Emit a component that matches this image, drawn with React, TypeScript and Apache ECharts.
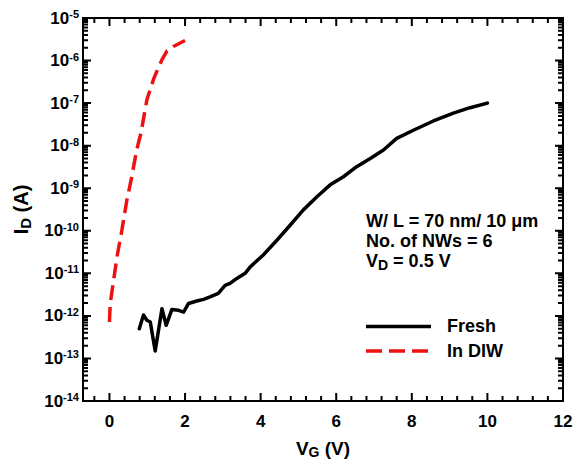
import React, { useEffect, useRef } from "react";
import * as echarts from "echarts";

// ---- data ----
const freshVg = [0.79, 0.90, 0.99, 1.08, 1.21, 1.39, 1.50, 1.65, 1.83, 1.96, 2.09, 2.31, 2.49, 2.66, 2.88, 3.06, 3.19, 3.37, 3.59, 3.72, 4.07, 4.43, 4.78, 5.13, 5.49, 5.84, 6.19, 6.54, 6.90, 7.25, 7.60, 8.04, 8.57, 9.10, 9.54, 10.0];
const freshId = [5.0e-13, 1.05e-12, 7.9e-13, 7.2e-13, 1.5e-13, 1.48e-12, 6.0e-13, 1.41e-12, 1.35e-12, 1.23e-12, 1.95e-12, 2.24e-12, 2.45e-12, 2.8e-12, 3.4e-12, 5.2e-12, 5.8e-12, 7.6e-12, 1.0e-11, 1.4e-11, 2.7e-11, 6.0e-11, 1.35e-10, 3.1e-10, 6.3e-10, 1.2e-9, 1.86e-9, 3.2e-9, 5.0e-9, 7.9e-9, 1.48e-8, 2.3e-8, 3.8e-8, 5.8e-8, 7.8e-8, 1.0e-7];

const diwVg = [0.0, 0.02, 0.11, 0.20, 0.33, 0.46, 0.59, 0.72, 0.84, 0.99, 1.16, 1.25, 1.39, 1.52, 1.69, 2.0];
const diwId = [7.2e-13, 1.95e-12, 6.9e-12, 2.45e-11, 1.05e-10, 5.2e-10, 1.86e-9, 7.9e-9, 2.1e-8, 1.2e-7, 3.5e-7, 5.5e-7, 1.05e-6, 1.66e-6, 2.14e-6, 2.95e-6];

const xTickLabels = [0, 2, 4, 6, 8, 10, 12];
const xMinorTicks = [-0.4, 0.4, 0.8, 1.2, 1.6, 2.4, 2.8, 3.2, 3.6, 4.4, 4.8, 5.2, 5.6, 6.4, 6.8, 7.2, 7.6, 8.4, 8.8, 9.2, 9.6, 10.4, 10.8, 11.2, 11.6];
const yDecadeExponents = [-14, -13, -12, -11, -10, -9, -8, -7, -6, -5];
const yMinorMultipliers = [2, 3, 4, 5, 6, 7, 8, 9];

const seriesNames = ["Fresh", "In DIW"];
const annotationLines = ["W/ L = 70 nm/ 10 \u03bcm", "No. of NWs = 6"];

const FONT = "'Liberation Sans', Arial, Helvetica, sans-serif";
const RED = "#ee1111";
const W = 573;
const H = 464;

export default function App() {
  const ref = useRef<HTMLDivElement>(null);

  useEffect(() => {
    if (!ref.current) return;
    const chart = echarts.init(ref.current, undefined, { renderer: "svg" });

    const xMin = -0.7;
    const xMax = 12;
    const eMin = yDecadeExponents[0];
    const eMax = yDecadeExponents[yDecadeExponents.length - 1];
    const yMin = Math.pow(10, eMin);
    const yMax = Math.pow(10, eMax);

    const textStyle = { fontSize: 18, fontFamily: FONT, fontWeight: "bold", fill: "#000" };

    chart.setOption({
      animation: false,
      backgroundColor: "#fff",
      grid: {
        left: 83, top: 18, right: 10, bottom: 63, containLabel: false, outerBoundsMode: "none",
        show: true, borderColor: "#000", borderWidth: 2, backgroundColor: "transparent",
      },
      xAxis: {
        type: "value",
        min: xMin,
        max: xMax,
        splitLine: { show: false },
        axisLine: { show: true, onZero: false, lineStyle: { color: "#000", width: 2 } },
        axisTick: { show: false },
        axisLabel: {
          show: true, customValues: xTickLabels, fontSize: 17, margin: 12,
          color: "#000", fontFamily: FONT, fontWeight: "bold",
        },
        name: "{m|V}{sub|G}{m| (V)}",
        nameLocation: "middle",
        nameGap: 36,
        nameTextStyle: {
          rich: {
            m: { fontSize: 19, fontFamily: FONT, fontWeight: "bold", color: "#000" },
            sub: { fontSize: 14, fontFamily: FONT, fontWeight: "bold", color: "#000", padding: [8, 0, 0, 0] },
          },
        },
      },
      yAxis: {
        type: "log",
        logBase: 10,
        min: yMin,
        max: yMax,
        interval: 1,
        splitLine: { show: false },
        axisLine: { show: true, onZero: false, lineStyle: { color: "#000", width: 2 } },
        axisTick: { show: false },
        axisLabel: {
          show: true,
          margin: 4,
          formatter: (v: number) => `{b|10}{s|${Math.round(Math.log10(v))}}`,
          rich: {
            b: { fontSize: 17, fontFamily: FONT, fontWeight: "bold", color: "#000" },
            s: { fontSize: 11, fontFamily: FONT, fontWeight: "bold", color: "#000", verticalAlign: "top", padding: [0, 0, 8, 0] },
          },
        },
        name: "{m|I}{sub|D}{m| (A)}",
        nameLocation: "middle",
        nameRotate: 90,
        nameGap: 46,
        nameTextStyle: {
          rich: {
            m: { fontSize: 20, fontFamily: FONT, fontWeight: "bold", color: "#000" },
            sub: { fontSize: 15, fontFamily: FONT, fontWeight: "bold", color: "#000", padding: [9, 0, 0, 0] },
          },
        },
      },
      series: [
        {
          name: seriesNames[0],
          type: "line",
          showSymbol: false,
          symbol: "none",
          data: freshVg.map((v, i) => [v, freshId[i]]),
          lineStyle: { color: "#000", width: 3.5, join: "round", cap: "round" },
          itemStyle: { color: "#000" },
        },
        {
          name: seriesNames[1],
          type: "line",
          showSymbol: false,
          symbol: "none",
          data: diwVg.map((v, i) => [v, diwId[i]]),
          lineStyle: { color: RED, width: 3.5, type: [15, 7] },
          itemStyle: { color: RED },
        },
      ],
    });

    // ---- tick marks as "comb" polylines along each frame edge, placed through the chart's scales ----
    const toPx = (x: number, y: number): number[] =>
      chart.convertToPixel({ xAxisIndex: 0, yAxisIndex: 0 }, [x, y]) as any;

    const bl = toPx(xMin, yMin);
    const tr = toPx(xMax, yMax);
    const yb = bl[1];
    const yt = tr[1];
    const xl = bl[0];
    const xr = tr[0];

    const xTicks: [number, number][] = [];
    xTickLabels.forEach((v) => xTicks.push([toPx(v, yMin)[0], 8]));
    xMinorTicks.forEach((v) => xTicks.push([toPx(v, yMin)[0], 5]));
    xTicks.sort((a, b) => a[0] - b[0]);

    const yTicks: [number, number][] = [];
    yDecadeExponents.forEach((e, i) => {
      const dec = Math.pow(10, e);
      yTicks.push([toPx(xMin, dec)[1], 8]);
      if (i < yDecadeExponents.length - 1) {
        yMinorMultipliers.forEach((m) => yTicks.push([toPx(xMin, m * dec)[1], 5]));
      }
    });
    yTicks.sort((a, b) => a[0] - b[0]);

    const combX = (y0: number, dir: number) => {
      const pts: number[][] = [[xl, y0]];
      xTicks.forEach(([x, len]) => {
        pts.push([x, y0], [x, y0 + dir * len], [x, y0]);
      });
      pts.push([xr, y0]);
      return pts;
    };
    const combY = (x0: number, dir: number) => {
      const pts: number[][] = [[x0, yt]];
      yTicks.forEach(([y, len]) => {
        pts.push([x0, y], [x0 + dir * len, y], [x0, y]);
      });
      pts.push([x0, yb]);
      return pts;
    };
    const combStyle = { stroke: "#000", lineWidth: 2, fill: null as any };
    const combs = [
      { type: "polyline", z: 50, silent: true, shape: { points: combX(yb, -1) }, style: combStyle },
      { type: "polyline", z: 50, silent: true, shape: { points: combX(yt, 1) }, style: combStyle },
      { type: "polyline", z: 50, silent: true, shape: { points: combY(xl, 1) }, style: combStyle },
      { type: "polyline", z: 50, silent: true, shape: { points: combY(xr, -1) }, style: combStyle },
    ];

    chart.setOption({
      graphic: [
        ...combs,
        { type: "text", left: 366, top: 212, style: { text: annotationLines[0], ...textStyle } },
        { type: "text", left: 366, top: 232, style: { text: annotationLines[1], ...textStyle } },
        {
          type: "text",
          left: 366,
          top: 252,
          style: {
            text: "{m|V}{sub|D}{m| = 0.5 V}",
            rich: {
              m: { fontSize: 18, fontFamily: FONT, fontWeight: "bold", fill: "#000" },
              sub: { fontSize: 14, fontFamily: FONT, fontWeight: "bold", fill: "#000", padding: [7, 0, 0, 0] },
            },
          },
        },
        // legend
        { type: "line", shape: { x1: 366, y1: 326.5, x2: 431, y2: 326.5 }, style: { stroke: "#000", lineWidth: 3.5 } },
        { type: "text", left: 447, top: 317, style: { text: seriesNames[0], ...textStyle } },
        { type: "line", shape: { x1: 366, y1: 351, x2: 431, y2: 351 }, style: { stroke: RED, lineWidth: 3.5, lineDash: [16, 7] } },
        { type: "text", left: 447, top: 342, style: { text: seriesNames[1], ...textStyle } },
      ],
    });

    return () => chart.dispose();
  }, []);

  return (
    <div
      ref={ref}
      style={{ position: "fixed", left: 0, top: 0, width: W, height: H, background: "#fff" }}
    />
  );
}
